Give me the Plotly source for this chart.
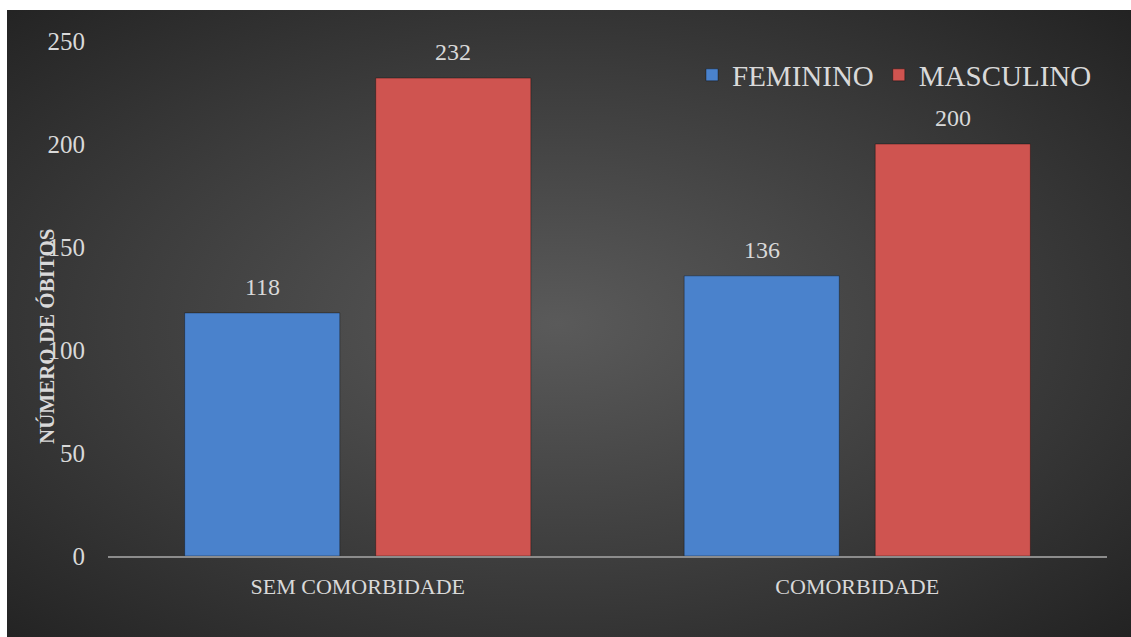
import base64
import plotly.graph_objects as go

categories = ["SEM COMORBIDADE", "COMORBIDADE"]
series_names = ["FEMININO", "MASCULINO"]
feminino = [118, 136]
masculino = [232, 200]
y_ticks = [0, 50, 100, 150, 200, 250]
y_title = "NÚMERO DE ÓBITOS"

colors = ["#4a82cc", "#cf5450"]
font_family = "Liberation Serif, DejaVu Serif, serif"
text_color = "#d9d9d9"

W, H = 1131, 637
L, R, T, B = 108, 24, 41, 81
pw, ph = W - L - R, H - T - B
y0 = H - B  # pixel row of the baseline

fig = go.Figure()
for name, vals, col in zip(series_names, [feminino, masculino], colors):
    fig.add_trace(go.Bar(
        x=categories, y=vals, name=name,
        marker=dict(color=col, line=dict(color="rgba(0,0,0,0.35)", width=1)),
    ))

# data labels
slot_px = 191
for j, vals in enumerate([feminino, masculino]):
    for c, v in zip(categories, vals):
        fig.add_annotation(
            x=c, y=v, text=str(v), showarrow=False,
            xshift=(j - 0.5) * slot_px, yshift=11, yanchor="bottom",
            font=dict(family=font_family, size=24, color=text_color),
        )

# y title
fig.add_annotation(
    xref="paper", yref="paper", x=(47 - L) / pw, y=(y0 - 336) / ph,
    xanchor="center", yanchor="middle",
    text="<b>" + y_title + "</b>", textangle=-90, showarrow=False,
    font=dict(family=font_family, size=21, color=text_color),
)

# background radial gradient (chart area inside a thin white page border)
bx, by = 7, 10
bw, bh = W - bx, H - by
svg = f'''<svg xmlns="http://www.w3.org/2000/svg" width="{bw}" height="{bh}" viewBox="0 0 {bw} {bh}" preserveAspectRatio="none">
<defs><radialGradient id="g" cx="0.49" cy="0.5" r="0.72">
<stop offset="0" stop-color="#5a5a5a"/><stop offset="0.55" stop-color="#3c3c3c"/><stop offset="1" stop-color="#222222"/>
</radialGradient></defs><rect width="{bw}" height="{bh}" fill="url(#g)"/></svg>'''
src = "data:image/svg+xml;base64," + base64.b64encode(svg.encode()).decode()
fig.add_layout_image(
    source=src, xref="paper", yref="paper",
    x=(bx - L) / pw, y=(y0 - by) / ph, sizex=bw / pw, sizey=bh / ph,
    xanchor="left", yanchor="top", sizing="stretch", layer="below",
)

fig.update_layout(
    width=W, height=H,
    margin=dict(l=L, r=R, t=T, b=B),
    paper_bgcolor="white", plot_bgcolor="rgba(0,0,0,0)",
    barmode="group", bargap=0.235, bargroupgap=0.188,
    font=dict(family=font_family, color=text_color),
    legend=dict(
        orientation="h", x=(1097 - L) / pw, xanchor="right", y=(y0 - 75) / ph, yanchor="middle",
        font=dict(family=font_family, size=29, color=text_color),
        bgcolor="rgba(0,0,0,0)", itemwidth=30,
    ),
    showlegend=True,
)
fig.update_xaxes(
    showline=True, linecolor="#8c8c8c", linewidth=2, showgrid=False,
    tickfont=dict(family=font_family, size=22, color=text_color),
    ticks="", ticklabelstandoff=10,
)
fig.update_yaxes(
    range=[0, 250], tickvals=y_ticks, showgrid=False, zeroline=False, showline=False,
    tickfont=dict(family=font_family, size=25, color=text_color),
    ticks="", ticklabelstandoff=22,
)

fig.write_html(
    "out.html",
    config={"displayModeBar": False},
    post_script="document.body.style.margin='0';document.documentElement.style.overflow='hidden';",
)
